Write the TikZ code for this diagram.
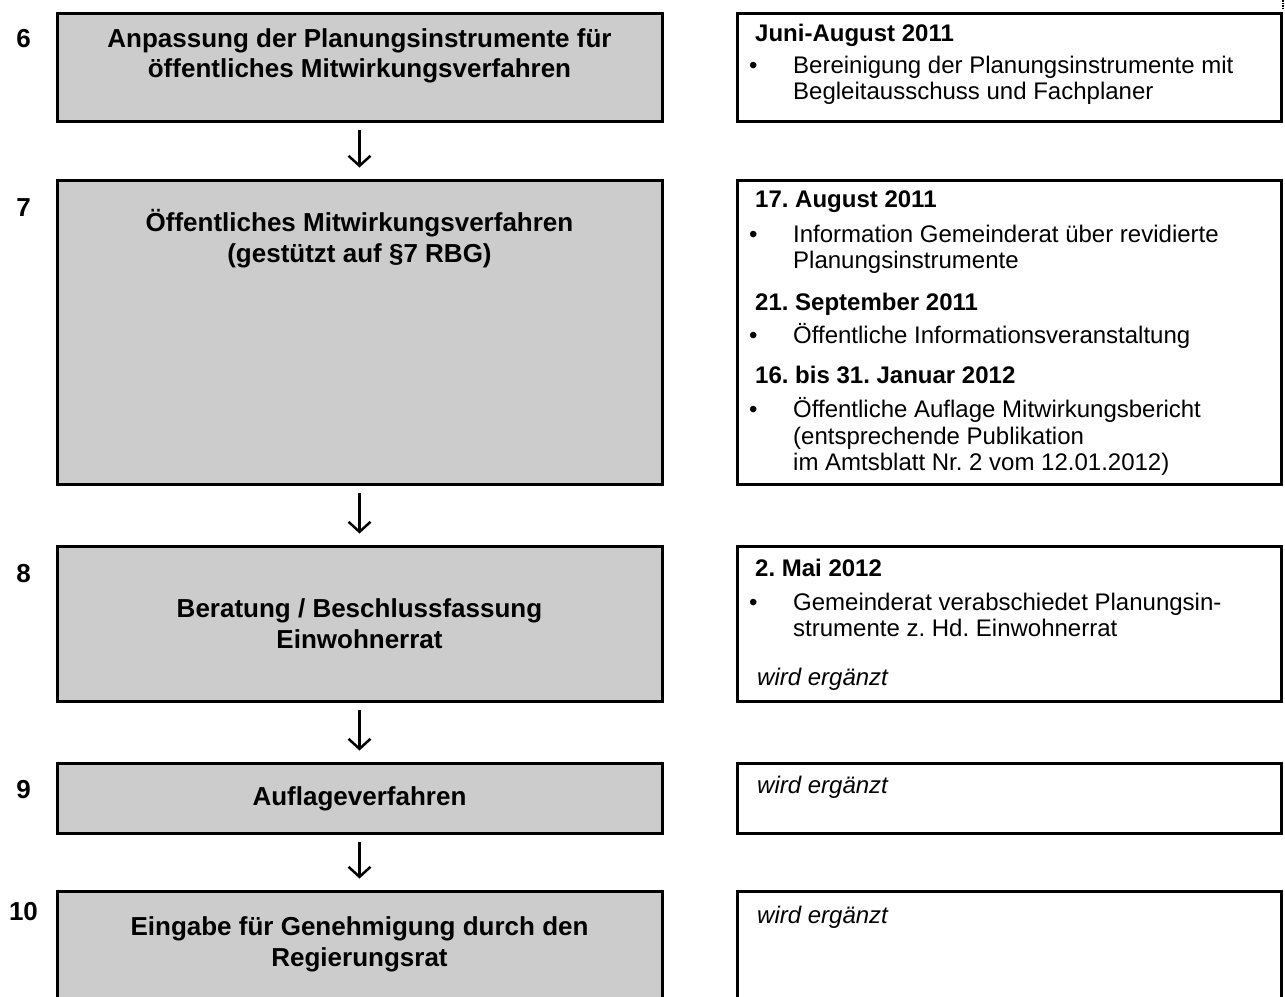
\documentclass[tikz,border=0pt]{standalone}
\usepackage{fontspec}
\setmainfont{Liberation Sans}
\usetikzlibrary{arrows.meta}
\definecolor{boxgray}{HTML}{CCCCCC}
\frenchspacing
\begin{document}
\begin{tikzpicture}[x=1pt,y=-1pt,
  stepbox/.style={draw, line width=3pt, fill=boxgray, inner sep=0pt, minimum width=605pt},
  infobox/.style={draw, line width=3pt, fill=white, inner sep=0pt, minimum width=544pt},
  titletxt/.style={font=\fontsize{26}{31}\selectfont\bfseries, anchor=base, inner sep=0pt},
  numtxt/.style={font=\fontsize{26}{31}\selectfont\bfseries, anchor=base, inner sep=0pt},
  headtxt/.style={font=\fontsize{24}{27}\selectfont\bfseries, anchor=base west, inner sep=0pt},
  bodytxt/.style={font=\fontsize{24}{27}\selectfont, anchor=base west, inner sep=0pt},
  itxt/.style={font=\fontsize{24}{27}\selectfont\itshape, anchor=base west, inner sep=0pt},
  flowarrow/.style={line width=2.5pt, -{Straight Barb[length=10pt,width=22pt,line width=2.5pt]}, shorten <=7pt, shorten >=11pt}
]
\useasboundingbox (0,0) rectangle (1285,996);
\begin{scope}
\clip (0,0) rectangle (1285,996);
% left step boxes
\node[stepbox, minimum height=108pt] (b6) at (359.5,67) {};
\node[stepbox, minimum height=304pt] (b7) at (359.5,332) {};
\node[stepbox, minimum height=155pt] (b8) at (359.5,623.5) {};
\node[stepbox, minimum height=70pt] (b9) at (359.5,798) {};
\node[stepbox, minimum height=169pt] (b10) at (359.5,975.5) {};
% right info boxes
\node[infobox, minimum height=108pt] (r6) at (1009,67) {};
\node[infobox, minimum height=304pt] (r7) at (1009,332) {};
\node[infobox, minimum height=155pt] (r8) at (1009,623.5) {};
\node[infobox, minimum height=70pt] (r9) at (1009,798) {};
\node[infobox, minimum height=169pt] (r10) at (1009,975.5) {};
\end{scope}
% arrows
\draw[flowarrow] (b6) -- (b7);
\draw[flowarrow] (b7) -- (b8);
\draw[flowarrow] (b8) -- (b9);
\draw[flowarrow] (b9) -- (b10);
% numbers
\node[numtxt] (n6) at (23.5,47) {6};
\node[numtxt] (n7) at (23.5,216) {7};
\node[numtxt] (n8) at (23.5,582) {8};
\node[numtxt] (n9) at (23.5,798) {9};
\node[numtxt] (n10) at (23.5,920) {10};
% left titles
\node[titletxt] (t6a) at (359.5,47) {Anpassung der Planungsinstrumente für};
\node[titletxt] (t6b) at (359.5,77) {öffentliches Mitwirkungsverfahren};
\node[titletxt] (t7a) at (359.5,231) {Öffentliches Mitwirkungsverfahren};
\node[titletxt] (t7b) at (359.5,262) {(gestützt auf §7 RBG)};
\node[titletxt] (t8a) at (359.5,617) {Beratung / Beschlussfassung};
\node[titletxt] (t8b) at (359.5,648) {Einwohnerrat};
\node[titletxt] (t9a) at (359.5,805) {Auflageverfahren};
\node[titletxt] (t10a) at (359.5,935) {Eingabe für Genehmigung durch den};
\node[titletxt] (t10b) at (359.5,966) {Regierungsrat};
% right texts, box 6
\node[headtxt] (h6) at (755,41) {Juni-August 2011};
\node[bodytxt] (u6) at (749,73) {•};
\node[bodytxt] (s6a) at (793,73) {Bereinigung der Planungsinstrumente mit};
\node[bodytxt] (s6b) at (793,99) {Begleitausschuss und Fachplaner};
% box 7
\node[headtxt] (h7a) at (755,207) {17. August 2011};
\node[bodytxt] (u7a) at (749,242) {•};
\node[bodytxt] (s7a) at (793,242) {Information Gemeinderat über revidierte};
\node[bodytxt] (s7b) at (793,268) {Planungsinstrumente};
\node[headtxt] (h7b) at (755,310) {21. September 2011};
\node[bodytxt] (u7b) at (749,343) {•};
\node[bodytxt] (s7c) at (793,343) {Öffentliche Informationsveranstaltung};
\node[headtxt] (h7c) at (755,383) {16. bis 31. Januar 2012};
\node[bodytxt] (u7c) at (749,417) {•};
\node[bodytxt] (s7d) at (793,417) {Öffentliche Auflage Mitwirkungsbericht};
\node[bodytxt] (s7e) at (793,444) {(entsprechende Publikation};
\node[bodytxt] (s7f) at (793,470) {im Amtsblatt Nr. 2 vom 12.01.2012)};
% box 8
\node[headtxt] (h8) at (755,576) {2. Mai 2012};
\node[bodytxt] (u8) at (749,610) {•};
\node[bodytxt] (s8a) at (793,610) {Gemeinderat verabschiedet Planungsin-};
\node[bodytxt] (s8b) at (793,636) {strumente z. Hd. Einwohnerrat};
\node[itxt] (w8) at (757,685) {wird ergänzt};
% box 9, 10
\node[itxt] (w9) at (757,793) {wird ergänzt};
\node[itxt] (w10) at (757,923) {wird ergänzt};
% small dotted mark at top right edge
\draw[line width=1.5pt, dash pattern=on 1.5pt off 1pt] (1283,0) -- (1283,10);
\end{tikzpicture}
\end{document}
